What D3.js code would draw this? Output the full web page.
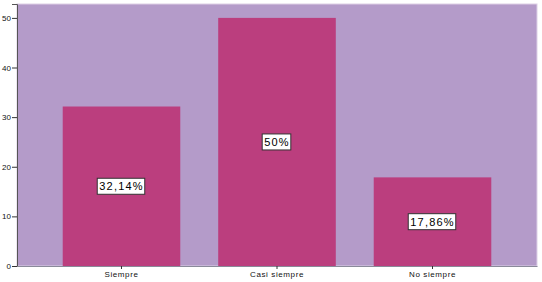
<!DOCTYPE html>
<html>
<head>
<meta charset="utf-8">
<script src="https://cdn.jsdelivr.net/npm/d3@7"></script>
<style>
  body { margin: 0; background: #fff; }
  svg { display: block; font-family: "Liberation Sans", Arial, sans-serif; }
</style>
</head>
<body>
<svg width="542" height="282"></svg>
<script>
var categories = ["Siempre", "Casi siempre", "No siempre"];
var values = [32.14, 50, 17.86];
var labels = ["32,14%", "50%", "17,86%"];
var yTicks = [0, 10, 20, 30, 40, 50];

var svg = d3.select("svg"),
    margin = {left: 17, top: 4, right: 5, bottom: 16},
    width = +svg.attr("width") - margin.left - margin.right,
    height = +svg.attr("height") - margin.top - margin.bottom,
    g = svg.append("g").attr("transform", "translate(" + margin.left + "," + margin.top + ")");

var x = d3.scaleBand().domain(categories).range([0, width])
    .paddingInner(0.244).paddingOuter(0.294);
var y = d3.scaleLinear().domain([0, 52.8]).range([height, 0]);

// plot background
g.append("rect")
    .attr("width", width).attr("height", height)
    .attr("fill", "#b49bc9")
    .attr("stroke", "#ddd0e6").attr("stroke-width", 1);

// bars
g.selectAll(".bar")
    .data(values)
    .enter().append("rect")
    .attr("class", "bar")
    .attr("x", function(d, i) { return x(categories[i]); })
    .attr("y", function(d) { return y(d); })
    .attr("width", x.bandwidth())
    .attr("height", function(d) { return height - y(d); })
    .attr("fill", "#bb3e7e");

// axes
var yAxis = g.append("g")
    .call(d3.axisLeft(y).tickValues(yTicks).tickSize(5).tickPadding(1));
yAxis.select(".domain").attr("stroke", "#555");
yAxis.selectAll(".tick line").attr("stroke", "#333");
yAxis.selectAll("text").attr("font-size", 8).attr("fill", "#111");

var xAxis = g.append("g")
    .attr("transform", "translate(0," + height + ")")
    .call(d3.axisBottom(x).tickSize(3).tickPadding(2).tickSizeOuter(0));
xAxis.select(".domain").attr("stroke", "#8a8a9a");
xAxis.selectAll(".tick line").attr("stroke", "#333");
xAxis.selectAll("text").attr("font-size", 8).attr("letter-spacing", "0.6px").attr("fill", "#111");

// value labels
var lab = g.selectAll(".lab")
    .data(values)
    .enter().append("g")
    .attr("class", "lab")
    .attr("transform", function(d, i) {
        return "translate(" + (x(categories[i]) + x.bandwidth() / 2) + "," + (y(d / 2)) + ")";
    });

lab.append("text")
    .attr("text-anchor", "middle")
    .attr("dy", "0.36em")
    .attr("font-size", 11)
    .attr("letter-spacing", "1.2px")
    .attr("fill", "#000")
    .text(function(d, i) { return labels[i]; });

lab.each(function() {
    var t = d3.select(this).select("text"), bb = t.node().getBBox();
    d3.select(this).insert("rect", "text")
        .attr("x", bb.x - 2).attr("y", -8)
        .attr("width", bb.width + 3).attr("height", 16)
        .attr("fill", "#fff").attr("stroke", "#333").attr("stroke-width", 1);
});
</script>
</body>
</html>
